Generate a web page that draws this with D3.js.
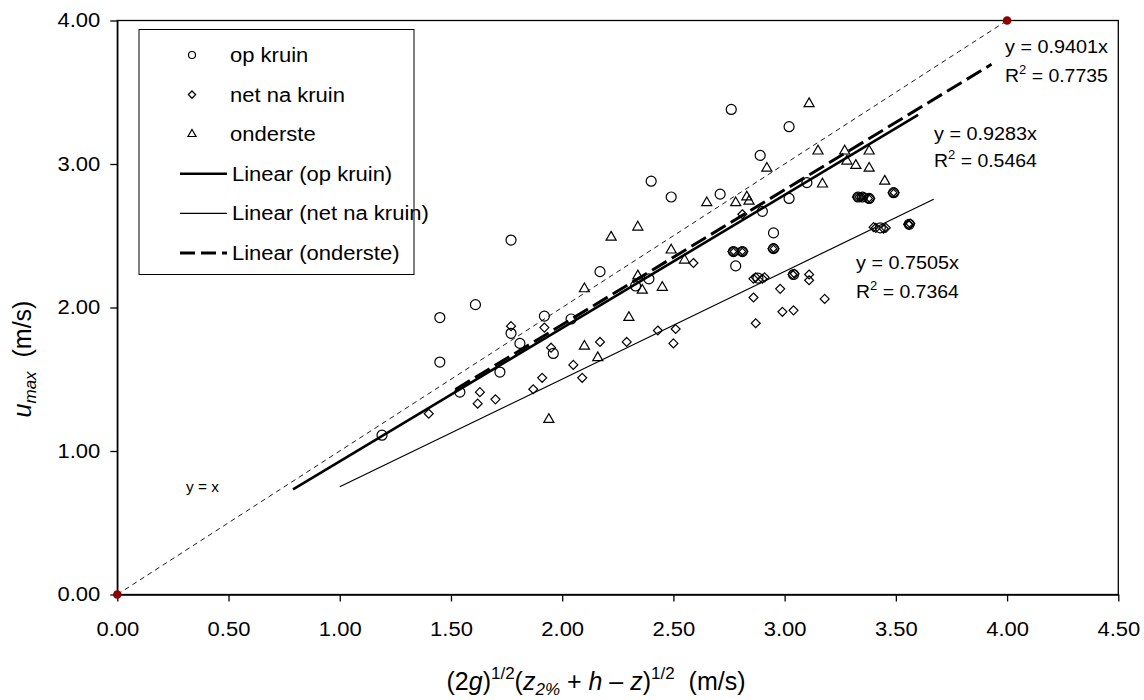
<!DOCTYPE html>
<html><head><meta charset="utf-8">
<script src="https://cdn.jsdelivr.net/npm/d3@7"></script>
<style>
body{margin:0;background:#fff;}
text{font-family:"Liberation Sans",Arial,sans-serif;fill:#000;}
</style></head><body>
<svg id="c" width="1144" height="700"></svg>
<script>
// ---- data ----
const opKruin = [
[1.19,1.11],[1.45,1.93],[1.45,1.62],[1.54,1.41],[1.61,2.02],[1.72,1.55],[1.77,1.82],[1.77,2.47],[1.81,1.75],[1.92,1.94],[1.96,1.68],[2.04,1.92],[2.17,2.25],[2.33,2.15],[2.39,2.20],[2.40,2.88],[2.49,2.77],[2.71,2.79],[2.76,3.38],[2.78,2.29],[2.77,2.39],[2.81,2.39],[2.89,3.06],[2.90,2.67],[2.95,2.52],[2.95,2.41],[3.02,3.26],[3.02,2.76],[3.10,2.87],[3.33,2.77],[3.35,2.77],[3.38,2.76],[3.49,2.80],
[2.88,2.205],[3.04,2.23],[3.43,2.555],[3.56,2.58]
];
const netNaKruin = [
[1.40,1.26],[1.63,1.41],[1.62,1.33],[1.70,1.36],[1.77,1.87],[1.92,1.86],[1.95,1.72],[1.87,1.43],[1.91,1.51],[2.05,1.60],[2.09,1.51],[2.17,1.76],[2.29,1.76],[2.43,1.84],[2.51,1.85],[2.50,1.75],[2.59,2.31],[2.81,2.65],[2.86,2.07],[2.87,1.89],[2.98,2.13],[3.18,2.06],[2.99,1.97],[3.04,1.98],[3.11,2.23],[3.11,2.19],
[2.765,2.39],[2.775,2.39],[2.805,2.39],[2.815,2.39],[2.945,2.41],[2.955,2.41],[3.325,2.77],[3.335,2.77],[3.345,2.77],[3.355,2.77],[3.375,2.76],[3.385,2.76],[3.485,2.80],[3.495,2.80],
[2.86,2.20],[2.87,2.21],[2.90,2.20],[2.91,2.21],[3.035,2.23],[3.045,2.235],[3.40,2.56],[3.41,2.555],[3.445,2.55],[3.455,2.555],[3.555,2.58],[3.565,2.585],[3.56,2.575]
];
const onderste = [
[1.94,1.22],[2.10,2.13],[2.10,1.73],[2.16,1.65],[2.22,2.49],[2.30,1.93],[2.34,2.56],[2.34,2.22],[2.36,2.12],[2.45,2.14],[2.49,2.40],[2.55,2.33],[2.65,2.73],[2.78,2.73],[2.83,2.77],[2.84,2.74],[2.92,2.97],[3.11,3.42],[3.15,3.09],[3.17,2.86],[3.27,3.09],[3.28,3.02],[3.32,2.99],[3.38,3.09],[3.38,2.97],[3.45,2.88]
];
const trendNames = ["op kruin","net na kruin","onderste"];
const trendSlopes = [0.9283, 0.7505, 0.9401];
const trendR2 = ["0.5464","0.7364","0.7735"];
const trendRanges = [[0.79,3.60],[1.00,3.67],[1.52,3.93]];
const refLine = [[0,0],[4,4]];
const xTicks = [0,0.5,1,1.5,2,2.5,3,3.5,4,4.5];
const yTicks = [0,1,2,3,4];

// ---- layout ----
const svg = d3.select("#c");
const x = d3.scaleLinear().domain([0,4.5]).range([117.3,1118.3]);
const y = d3.scaleLinear().domain([0,4]).range([594.5,20.5]);
const STRETCH = 1.1;
function stretch(sel,k){ sel.each(function(){ const w=this.getComputedTextLength(); this.setAttribute("textLength",w*k); this.setAttribute("lengthAdjust","spacingAndGlyphs"); }); }

const diamond = {draw(ctx,size){const r=Math.sqrt(size/2);ctx.moveTo(0,-r);ctx.lineTo(r,0);ctx.lineTo(0,r);ctx.lineTo(-r,0);ctx.closePath();}};

// axes
const xAxis = svg.append("g").attr("transform",`translate(0,${y(0)})`)
  .call(d3.axisBottom(x).tickValues(xTicks).tickFormat(d3.format(".2f")).tickSize(7).tickSizeOuter(0).tickPadding(20));
const yAxis = svg.append("g").attr("transform",`translate(${x(0)},0)`)
  .call(d3.axisLeft(y).tickValues(yTicks).tickFormat(d3.format(".2f")).tickSize(7).tickSizeOuter(0).tickPadding(10));
[xAxis,yAxis].forEach(a=>{
  a.selectAll("path,line").attr("stroke","#000").attr("stroke-width",1.3);
  a.selectAll("text").attr("font-size",20).attr("font-family","Liberation Sans, Arial, sans-serif").call(stretch,STRETCH);
});
// frame
svg.append("rect").attr("x",x(0)).attr("y",y(4)).attr("width",x(4.5)-x(0)).attr("height",y(0)-y(4))
  .attr("fill","none").attr("stroke","#000").attr("stroke-width",1.3);

// reference y = x
svg.append("line").attr("x1",x(refLine[0][0])).attr("y1",y(refLine[0][1])).attr("x2",x(refLine[1][0])).attr("y2",y(refLine[1][1]))
  .attr("stroke","#000").attr("stroke-width",0.9).attr("stroke-dasharray","5,4");
svg.selectAll(".refdot").data(refLine).join("circle").attr("cx",d=>x(d[0])).attr("cy",d=>y(d[1])).attr("r",4.3).attr("fill","#8b0000");
svg.append("text").attr("x",186).attr("y",492).attr("font-size",14).text("y = x").call(stretch,STRETCH);

// trend lines
const trendStyles = [
  {w:2.6,dash:null},{w:1.2,dash:null},{w:3,dash:"17,6"}
];
trendSlopes.forEach((m,i)=>{
  const [a,b]=trendRanges[i];
  svg.append("line").attr("x1",x(a)).attr("y1",y(m*a)).attr("x2",x(b)).attr("y2",y(m*b))
    .attr("stroke","#000").attr("stroke-width",trendStyles[i].w).attr("stroke-dasharray",trendStyles[i].dash);
});

// markers
const mk = svg.append("g").attr("fill","none").attr("stroke","#000").attr("stroke-width",1.2);
mk.selectAll(".c").data(opKruin).join("circle").attr("cx",d=>x(d[0])).attr("cy",d=>y(d[1])).attr("r",5);
mk.selectAll(".d").data(netNaKruin).join("path").attr("d",d3.symbol(diamond,40)).attr("transform",d=>`translate(${x(d[0])},${y(d[1])})`);
mk.selectAll(".t").data(onderste).join("path").attr("d",d3.symbol(d3.symbolTriangle,44)).attr("transform",d=>`translate(${x(d[0])},${y(d[1])})`);

// equation labels
const eqPos = [[934,140,167],[856,269,298],[1005,53,82]];
trendSlopes.forEach((m,i)=>{
  const [tx,b1,b2]=eqPos[i];
  svg.append("text").attr("x",tx).attr("y",b1).attr("font-size",18).text(`y = ${m.toFixed(4)}x`).call(stretch,STRETCH);
  const t=svg.append("text").attr("x",tx).attr("y",b2).attr("font-size",18);
  t.append("tspan").text("R");
  t.append("tspan").attr("font-size",12).attr("dy",-8).text("2");
  t.append("tspan").attr("dy",8).text(" = "+trendR2[i]);
  t.call(stretch,1.08);
});

// legend
const lg = svg.append("g");
lg.append("rect").attr("x",139).attr("y",29.5).attr("width",275).attr("height",245).attr("fill","#fff").attr("stroke","#000").attr("stroke-width",1);
const rowY = d=>55+d*39.6;
const legendItems = [
  {label:"op kruin",type:"c"},{label:"net na kruin",type:"d"},{label:"onderste",type:"t"},
  {label:"Linear (op kruin)",type:"l",i:0},{label:"Linear (net na kruin)",type:"l",i:1},{label:"Linear (onderste)",type:"l",i:2}
];
legendItems.forEach((it,k)=>{
  const cy=rowY(k);
  if(it.type==="c") lg.append("circle").attr("cx",192).attr("cy",cy).attr("r",3.5).attr("fill","none").attr("stroke","#000").attr("stroke-width",1.2);
  if(it.type==="d") lg.append("path").attr("d",d3.symbol(diamond,26)).attr("transform",`translate(192,${cy})`).attr("fill","none").attr("stroke","#000").attr("stroke-width",1.3);
  if(it.type==="t") lg.append("path").attr("d",d3.symbol(d3.symbolTriangle,28)).attr("transform",`translate(192,${cy})`).attr("fill","none").attr("stroke","#000").attr("stroke-width",1.2);
  if(it.type==="l") lg.append("line").attr("x1",180).attr("x2",227).attr("y1",cy).attr("y2",cy).attr("stroke","#000")
     .attr("stroke-width",trendStyles[it.i].w).attr("stroke-dasharray",it.i===2?"15,6":null);
  lg.append("text").attr("x",it.type==="l"?232:230).attr("y",cy+7).attr("font-size",20).text(it.label).call(stretch,STRETCH);
});

// axis titles
const xt = svg.append("text").attr("x",596).attr("y",690).attr("text-anchor","middle").attr("font-size",25);
xt.append("tspan").text("(2");
xt.append("tspan").attr("font-style","italic").text("g");
xt.append("tspan").text(")");
xt.append("tspan").attr("font-size",17).attr("dy",-11).text("1/2");
xt.append("tspan").attr("dy",11).text("(");
xt.append("tspan").attr("font-style","italic").text("z");
xt.append("tspan").attr("font-style","italic").attr("font-size",17).attr("dy",5).text("2%");
xt.append("tspan").attr("dy",-5).text(" + ");
xt.append("tspan").attr("font-style","italic").text("h");
xt.append("tspan").text(" \u2013 ");
xt.append("tspan").attr("font-style","italic").text("z");
xt.append("tspan").text(")");
xt.append("tspan").attr("font-size",17).attr("dy",-11).text("1/2");
xt.append("tspan").attr("dy",11).text("\u00a0\u00a0(m/s)");

const yt = svg.append("text").attr("transform","translate(31,359) rotate(-90)").attr("text-anchor","middle").attr("font-size",25);
yt.append("tspan").attr("font-style","italic").text("u");
yt.append("tspan").attr("font-style","italic").attr("font-size",17).attr("dy",5).text("max");
yt.append("tspan").attr("dy",-5).text("\u00a0\u00a0(m/s)");
</script></body></html>
